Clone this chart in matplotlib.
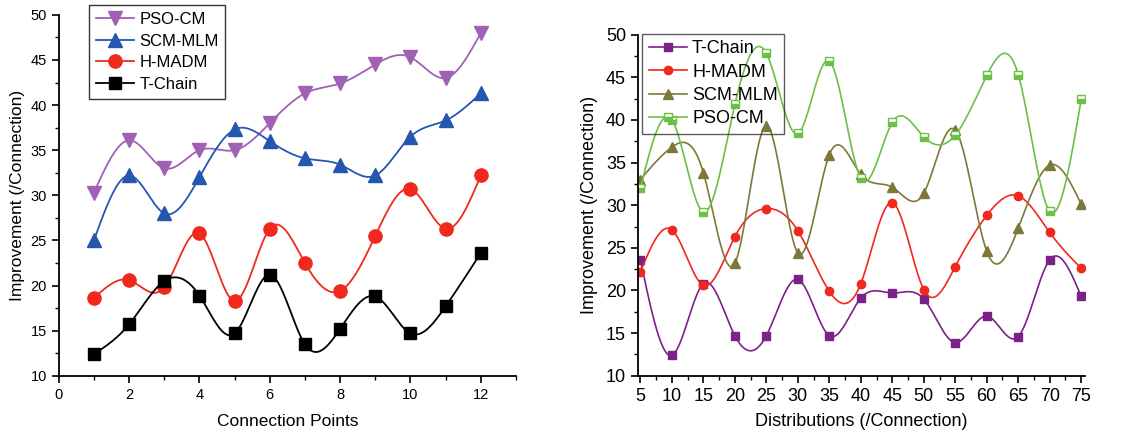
import numpy as np
import matplotlib
matplotlib.use("Agg")
import matplotlib.pyplot as plt
from matplotlib.ticker import MultipleLocator

plt.rcParams['font.family'] = ['Liberation Sans', 'DejaVu Sans']

# left panel data
points = [1, 2, 3, 4, 5, 6, 7, 8, 9, 10, 11, 12]
pso_left = [30.3, 36.1, 33.0, 35.0, 35.0, 38.0, 41.3, 42.4, 44.5, 45.3, 43.0, 48.0]
scm_left = [25.0, 32.2, 28.0, 32.0, 37.3, 36.0, 34.1, 33.4, 32.2, 36.5, 38.3, 41.3]
hmadm_left = [18.6, 20.6, 19.8, 25.8, 18.3, 26.3, 22.5, 19.4, 25.5, 30.7, 26.3, 32.2]
tchain_left = [12.4, 15.7, 20.5, 18.9, 14.7, 21.2, 13.5, 15.2, 18.8, 14.7, 17.7, 23.6]

# right panel data
dists = [5, 10, 15, 20, 25, 30, 35, 40, 45, 50, 55, 60, 65, 70, 75]
tchain_right = [23.6, 12.4, 20.8, 14.7, 14.7, 21.3, 14.7, 19.1, 19.7, 19.0, 13.9, 17.0, 14.6, 23.6, 19.3]
hmadm_right = [22.2, 27.1, 20.6, 26.3, 29.6, 27.0, 19.9, 20.8, 30.3, 20.1, 22.8, 28.8, 31.1, 26.8, 22.6]
scm_right = [33.0, 36.8, 33.8, 23.2, 39.3, 24.4, 35.9, 33.6, 32.1, 31.4, 38.8, 24.6, 27.3, 34.7, 30.1]
pso_right = [32.0, 40.0, 29.2, 41.8, 47.8, 38.4, 46.9, 33.2, 39.7, 38.0, 38.2, 45.2, 45.3, 29.3, 42.4]


def spline(x, y, n=400):
    # natural cubic spline through the points
    x = np.asarray(x, float)
    y = np.asarray(y, float)
    m = len(x)
    h = np.diff(x)
    A = np.zeros((m, m))
    b = np.zeros(m)
    A[0, 0] = A[-1, -1] = 1
    for i in range(1, m - 1):
        A[i, i - 1] = h[i - 1]
        A[i, i] = 2 * (h[i - 1] + h[i])
        A[i, i + 1] = h[i]
        b[i] = 6 * ((y[i + 1] - y[i]) / h[i] - (y[i] - y[i - 1]) / h[i - 1])
    M = np.linalg.solve(A, b)
    xs = np.linspace(x[0], x[-1], n)
    idx = np.clip(np.searchsorted(x, xs) - 1, 0, m - 2)
    x0, x1 = x[idx], x[idx + 1]
    hh = x1 - x0
    t0 = x1 - xs
    t1 = xs - x0
    ys = (M[idx] * t0**3 + M[idx + 1] * t1**3) / (6 * hh) \
        + (y[idx] / hh - M[idx] * hh / 6) * t0 \
        + (y[idx + 1] / hh - M[idx + 1] * hh / 6) * t1
    return xs, ys


def series(ax, x, y, color, marker, label, ms, lw, **kw):
    xs, ys = spline(x, y)
    ax.plot(xs, ys, color=color, lw=lw)
    ax.plot(x, y, ls='none', marker=marker, color=color, ms=ms, **kw)
    ax.plot([], [], color=color, lw=lw, marker=marker, ms=ms, label=label, **kw)


fig = plt.figure(figsize=(11.29, 4.37), dpi=100)
ax1 = fig.add_axes([0.052, 0.14, 0.405, 0.826])
ax2 = fig.add_axes([0.565, 0.14, 0.396, 0.781])

series(ax1, points, pso_left, '#a060b4', 'v', 'PSO-CM', 9.5, 1.3)
series(ax1, points, scm_left, '#2556b0', '^', 'SCM-MLM', 9.5, 1.3)
series(ax1, points, hmadm_left, '#f0281e', 'o', 'H-MADM', 9.5, 1.3)
series(ax1, points, tchain_left, 'black', 's', 'T-Chain', 8.5, 1.3)

series(ax2, dists, tchain_right, '#7b2188', 's', 'T-Chain', 5.5, 1.2)
series(ax2, dists, hmadm_right, '#f0281e', 'o', 'H-MADM', 6, 1.2)
series(ax2, dists, scm_right, '#7d7838', '^', 'SCM-MLM', 6.5, 1.2)
series(ax2, dists, pso_right, '#6cc046', 's', 'PSO-CM', 6, 1.2,
       fillstyle='bottom', markerfacecoloralt='white')

ax1.set_xlim(0, 13)
ax1.set_ylim(10, 50)
ax1.xaxis.set_major_locator(MultipleLocator(2))
ax1.xaxis.set_minor_locator(MultipleLocator(1))
ax1.yaxis.set_major_locator(MultipleLocator(5))
ax1.yaxis.set_minor_locator(MultipleLocator(2.5))
ax1.set_xlabel('Connection Points', fontsize=12.5, labelpad=9)
ax1.set_ylabel('Improvement (/Connection)', fontsize=12.5, labelpad=4)
ax1.tick_params(labelsize=10.5)

ax2.set_xlim(4.6, 75.6)
ax2.set_ylim(10, 50)
ax2.xaxis.set_major_locator(MultipleLocator(5))
ax2.xaxis.set_minor_locator(MultipleLocator(2.5))
ax2.yaxis.set_major_locator(MultipleLocator(5))
ax2.yaxis.set_minor_locator(MultipleLocator(2.5))
ax2.set_xlabel('Distributions (/Connection)', fontsize=13, labelpad=6)
ax2.set_ylabel('Improvement (/Connection)', fontsize=13, labelpad=6)
ax2.tick_params(labelsize=13)

for ax in (ax1, ax2):
    ax.spines['top'].set_visible(False)
    ax.spines['right'].set_visible(False)
    ax.tick_params(which='major', direction='out', length=5, width=1.2)
    ax.tick_params(which='minor', direction='out', length=3, width=1)
    for s in ('left', 'bottom'):
        ax.spines[s].set_linewidth(1.3)

ax1.legend(loc='upper left', bbox_to_anchor=(0.079, 0.988), bbox_transform=fig.transFigure,
           fontsize=12, frameon=True, fancybox=False, edgecolor='#333333',
           framealpha=1, handlelength=2.3, borderpad=0.4, labelspacing=0.4,
           handletextpad=0.3, borderaxespad=0)
ax2.legend(loc='upper left', bbox_to_anchor=(0.569, 0.922), bbox_transform=fig.transFigure,
           fontsize=13, frameon=True, fancybox=False, edgecolor='#333333',
           facecolor='none', framealpha=None, handlelength=2.1, borderpad=0.35,
           labelspacing=0.35, handletextpad=0.3, borderaxespad=0)

fig.savefig('out.png', dpi=100)
